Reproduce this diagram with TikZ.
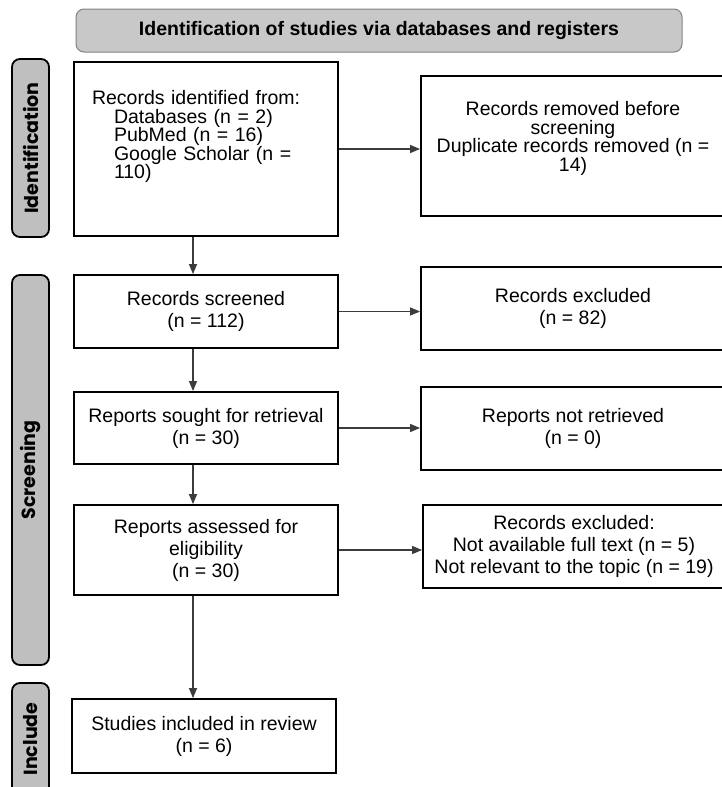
\documentclass[tikz,border=0pt]{standalone}
\usepackage{fontspec}
\setmainfont{Liberation Sans}
\newfontfamily\sidefont{Poppins}
\usetikzlibrary{arrows.meta, calc}
\definecolor{sidegray}{RGB}{191,191,191}
\definecolor{headgray}{RGB}{200,200,200}
\definecolor{headline}{RGB}{130,130,130}
\definecolor{linegray}{RGB}{60,60,60}

\begin{document}
\begin{tikzpicture}[x=1pt, y=-1pt,
    box/.style={draw=black, line width=1.8pt, fill=white, align=center, inner sep=4pt, font=\fontsize{19.5}{22}\selectfont},
    tight/.style={font=\fontsize{19.5}{18.5}\selectfont},
    sidebar/.style={draw=black, line width=1.8pt, fill=sidegray, rounded corners=8pt, rotate=90, minimum height=37pt, inner sep=0pt, font=\sidefont\bfseries\fontsize{19}{21}\selectfont},
    flow/.style={draw=linegray, line width=1.2pt, -{Triangle[length=10pt,width=8pt]}}]
    \useasboundingbox (0,0) rectangle (721,787);

    % Header
    \node[draw=headline, line width=1pt, fill=headgray, rounded corners=8pt, minimum width=606pt, minimum height=43pt, font=\bfseries\fontsize{19.5}{21.5}\selectfont] (head) at (379,30.5) {Identification of studies via databases and registers};

    % Phases
    \node[sidebar, minimum width=178pt] (phaseid) at (30.5,148) {Identification};
    \node[sidebar, minimum width=390pt] (phasescr) at (30.5,470) {Screening};
    \node[sidebar, minimum width=112pt] (phaseinc) at (30.5,739) {Include};

    % Identification
    \node[box, tight, minimum width=264pt, minimum height=174pt, text width=228pt, align=left] (ident) at (206,149) {Records identified from:\\\hspace*{22pt}Databases (n = 2)\\\hspace*{22pt}PubMed (n = 16)\\\hspace*{22pt}Google Scholar (n =\\\hspace*{22pt}110)\rule[-29pt]{0pt}{29pt}};
    \node[box, tight, minimum width=304pt, minimum height=140pt] (removed) at (573,146) {Records removed before\\screening\\Duplicate records removed (n =\\14)\rule[-19pt]{0pt}{19pt}};

    % Screening
    \node[box, minimum width=264pt, minimum height=73pt] (screened) at (206,311.5) {Records screened\\(n = 112)};
    \node[box, minimum width=304pt, minimum height=83pt] (excl) at (573,308.5) {Records excluded\\(n = 82)};
    \node[box, minimum width=264pt, minimum height=72pt] (sought) at (206,428) {Reports sought for retrieval\\(n = 30)};
    \node[box, minimum width=304pt, minimum height=83pt] (notret) at (573,428.5) {Reports not retrieved\\(n = 0)};
    \node[box, minimum width=264pt, minimum height=90pt] (assessed) at (206,550) {Reports assessed for\\eligibility\\(n = 30)};
    \node[box, minimum width=302pt, minimum height=83pt] (exclrep) at (574,546.5) {Records excluded:\\Not available full text (n = 5)\\Not relevant to the topic (n = 19)};

    % Include
    \node[box, minimum width=264pt, minimum height=74pt] (studies) at (204,736) {Studies included in review\\(n = 6)};

    % Arrows
    \coordinate (spine) at (193,0);
    \draw[flow] (ident.south -| spine) -- (screened.north -| spine);
    \draw[flow] (screened.south -| spine) -- (sought.north -| spine);
    \draw[flow] (sought.south -| spine) -- (assessed.north -| spine);
    \draw[flow] (assessed.south -| spine) -- (studies.north -| spine);

    \draw[flow] (ident.east) -- (ident.east -| removed.west);
    \draw[flow] (screened.east) -- (screened.east -| excl.west);
    \draw[flow] (sought.east) -- (sought.east -| notret.west);
    \draw[flow] (assessed.east) -- (assessed.east -| exclrep.west);
\end{tikzpicture}
\end{document}
